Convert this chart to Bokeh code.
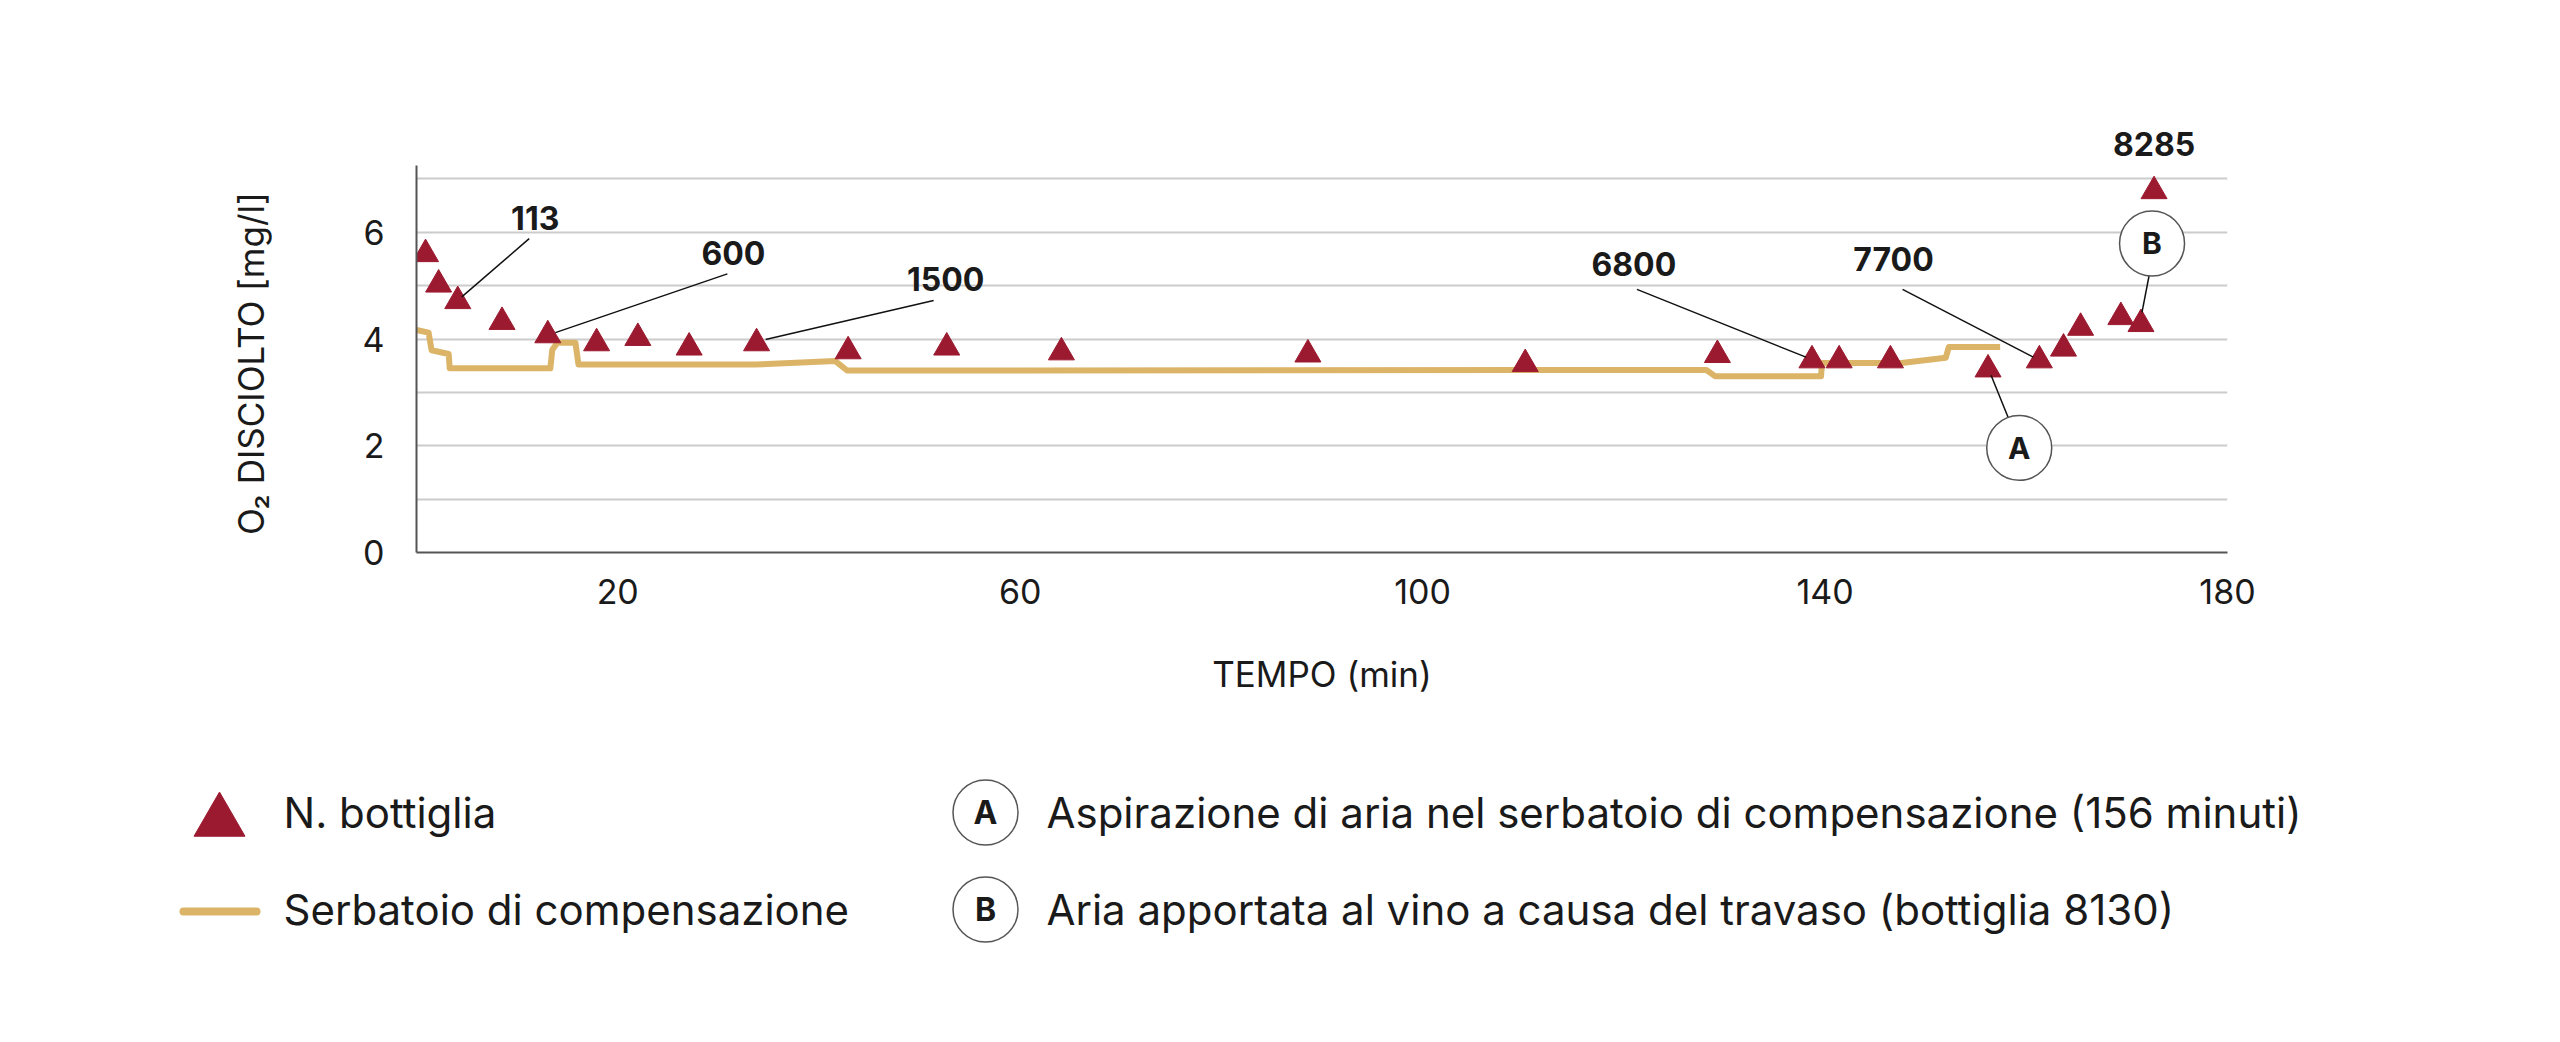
from bokeh.plotting import figure
from bokeh.models import FixedTicker, Range1d
from bokeh.embed import file_html
from bokeh.resources import INLINE
from bokeh.core.properties import value

# ---------------- data ----------------
bottle_time = [0.9, 2.2, 4.1, 8.5, 13.05, 17.9, 22.0, 27.1, 33.8, 42.9, 52.7, 64.1,
               88.6, 110.2, 129.3, 138.7, 141.4, 146.5, 156.2, 161.3, 163.7, 165.4,
               169.4, 171.4, 172.7]
bottle_o2 = [5.59, 5.02, 4.71, 4.32, 4.07, 3.92, 4.02, 3.84, 3.92, 3.77, 3.84, 3.75,
             3.71, 3.53, 3.70, 3.60, 3.60, 3.60, 3.43, 3.60, 3.82, 4.21,
             4.41, 4.28, 6.77]

tank_time = [0, 1.2, 1.5, 3.2, 3.3, 13.3, 13.5, 14.0, 15.8, 16.1, 33.6, 41.6, 42.8,
             128.2, 129.1, 139.6, 139.7, 147.6, 152.0, 152.3, 157.4]
tank_o2 = [4.17, 4.12, 3.79, 3.72, 3.45, 3.45, 3.80, 3.93, 3.93, 3.52, 3.52, 3.59, 3.41,
           3.42, 3.30, 3.30, 3.55, 3.55, 3.65, 3.85, 3.85]

callout_text = ["113", "600", "1500", "6800", "7700", "8285"]
callout_x = [11.8, 31.5, 52.6, 121.0, 146.8, 172.7]
callout_y = [6.27, 5.62, 5.13, 5.40, 5.50, 7.66]

leader_x0 = [11.2, 30.9, 51.4, 121.3, 147.7, 172.2, 158.2]
leader_y0 = [5.88, 5.22, 4.72, 4.93, 4.93, 5.18, 2.53]
leader_x1 = [4.5, 13.8, 34.7, 138.1, 160.7, 171.5, 156.5]
leader_y1 = [4.79, 4.12, 3.99, 3.66, 3.66, 4.50, 3.32]

marker_letters = ["A", "B"]
marker_x = [159.3, 172.5]
marker_y = [1.96, 5.79]

x_ticks = [20, 60, 100, 140, 180]
y_ticks = [0, 2, 4, 6]
grid_ticks = [1, 2, 3, 4, 5, 6, 7]

legend_labels = ["N. bottiglia", "Serbatoio di compensazione"]
note_labels = ["Aspirazione di aria nel serbatoio di compensazione (156 minuti)",
               "Aria apportata al vino a causa del travaso (bottiglia 8130)"]

# ---------------- style / layout ----------------
FONT = "Inter"
RED = "#9c1a30"
GOLD = "#dbb468"
TXT = "#1a1a1a"
W, H = 2544, 720
FL, FT, FW, FH = 416, 125, 1811, 427          # frame left/top/width/height (px)

p = figure(width=W, height=H, x_range=Range1d(0, 180), y_range=Range1d(0, 8),
           output_backend="svg", toolbar_location=None,
           min_border_left=FL, min_border_right=W - FL - FW,
           min_border_top=FT, min_border_bottom=H - FT - FH)
p.outline_line_color = None
p.xgrid.visible = False
p.ygrid.ticker = FixedTicker(ticks=grid_ticks)
p.ygrid.grid_line_color = "#cccccc"
p.ygrid.grid_line_width = 2

p.yaxis.ticker = FixedTicker(ticks=y_ticks)
p.yaxis.bounds = (0, 7.25)
p.xaxis.ticker = FixedTicker(ticks=x_ticks)
for ax in (p.xaxis[0], p.yaxis[0]):
    ax.axis_line_color = "#555555"
    ax.axis_line_width = 2
    ax.major_tick_line_color = None
    ax.minor_tick_line_color = None
    ax.major_label_text_font = FONT
    ax.major_label_text_font_size = "34px"
    ax.major_label_text_color = TXT
    ax.axis_label_text_font = FONT
    ax.axis_label_text_font_size = "35px"
    ax.axis_label_text_font_style = "normal"
    ax.axis_label_text_color = TXT

p.xaxis.axis_label = "TEMPO (min)"
p.xaxis.major_label_standoff = 20
p.xaxis.axis_label_standoff = 46
# trailing no-break spaces keep the label centred on the drawn part of the axis (0..7.25)
p.yaxis.axis_label = "O\u2082 DISCIOLTO [mg/l]" + "\u00a0" * 5
p.yaxis.major_label_standoff = 26
p.yaxis.axis_label_standoff = 88

p.line(tank_time, tank_o2, line_color=GOLD, line_width=6, line_join="round")
p.scatter(bottle_time, bottle_o2, marker="triangle", size=26,
          fill_color=RED, line_color=RED, line_width=1)
p.segment(leader_x0, leader_y0, leader_x1, leader_y1, line_color="#111111", line_width=1.5)
p.text(callout_x, callout_y, text=callout_text, text_align="center", text_baseline="middle",
       text_font=value(FONT), text_font_size=value("32px"), text_font_style="bold",
       text_color=TXT)
p.scatter(marker_x, marker_y, marker="circle", size=65, fill_color="white",
          line_color="#555555", line_width=1.5)
p.text(marker_x, marker_y, text=marker_letters, text_align="center", text_baseline="middle",
       text_font=value(FONT), text_font_size=value("30px"), text_font_style="bold",
       text_color=TXT)

# ---------------- legend: separate root figure in pixel coordinates ----------------
LH = 310
leg = figure(width=W, height=LH, x_range=Range1d(0, W), y_range=Range1d(LH, 0),
             output_backend="svg", toolbar_location=None,
             x_axis_type=None, y_axis_type=None, min_border=0)
leg.outline_line_color = None
leg.xgrid.visible = False
leg.ygrid.visible = False

OFF = H                       # legend figure starts right below the chart
row_y = [812 - OFF, 909 - OFF]
leg.scatter([219], [821 - OFF], marker="triangle", size=51, fill_color=RED, line_color=RED)
leg.line([183, 256], [row_y[1] + 2, row_y[1] + 2], line_color=GOLD, line_width=8,
         line_cap="round")
leg.text([283, 283], row_y, text=legend_labels, text_align="left", text_baseline="middle",
         text_font=value(FONT), text_font_size=value("42px"), text_color=TXT)
leg.scatter([985, 985], row_y, marker="circle", size=65, fill_color="white",
            line_color="#555555", line_width=1.5)
leg.text([985, 985], row_y, text=marker_letters, text_align="center", text_baseline="middle",
         text_font=value(FONT), text_font_size=value("32px"), text_font_style="bold",
         text_color=TXT)
leg.text([1046, 1046], row_y, text=note_labels, text_align="left", text_baseline="middle",
         text_font=value(FONT), text_font_size=value("42px"), text_color=TXT)

open("out.html", "w").write(file_html((p, leg), INLINE))
